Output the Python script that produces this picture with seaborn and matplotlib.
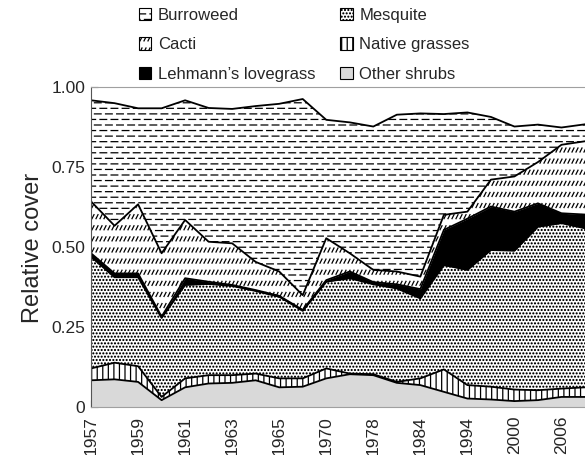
import warnings

import matplotlib
matplotlib.use("Agg")
import matplotlib.hatch as mhatch
import matplotlib.pyplot as plt
import numpy as np
import pandas as pd
import seaborn as sns
from matplotlib.patches import Patch
from matplotlib.path import Path

warnings.filterwarnings("ignore")

# relative cover per census year (stack order bottom -> top)
years = [1957, 1958, 1959, 1960, 1961, 1962, 1963, 1964, 1965, 1967, 1970,
         1975, 1978, 1981, 1984, 1989, 1994, 1997, 2000, 2003, 2006, 2009]
other_shrubs = [0.085, 0.088, 0.080, 0.023, 0.063, 0.075, 0.077, 0.085, 0.063, 0.065, 0.091,
                0.104, 0.101, 0.077, 0.070, 0.049, 0.028, 0.025, 0.020, 0.023, 0.033, 0.033]
native_grasses = [0.037, 0.052, 0.049, 0.010, 0.028, 0.026, 0.024, 0.021, 0.028, 0.026, 0.031,
                  0.002, 0.003, 0.003, 0.021, 0.070, 0.042, 0.040, 0.036, 0.031, 0.026, 0.030]
mesquite = [0.349, 0.267, 0.278, 0.247, 0.292, 0.285, 0.279, 0.258, 0.255, 0.211, 0.271,
            0.298, 0.281, 0.292, 0.250, 0.326, 0.360, 0.427, 0.434, 0.511, 0.517, 0.497]
lehmann = [0.011, 0.012, 0.012, 0.004, 0.021, 0.007, 0.003, 0.003, 0.003, 0.003, 0.005,
           0.021, 0.007, 0.013, 0.029, 0.110, 0.160, 0.136, 0.122, 0.073, 0.031, 0.043]
cacti = [0.162, 0.149, 0.216, 0.198, 0.182, 0.125, 0.130, 0.088, 0.076, 0.046, 0.131,
         0.057, 0.038, 0.040, 0.039, 0.047, 0.022, 0.084, 0.110, 0.129, 0.214, 0.229]
burroweed = [0.316, 0.383, 0.300, 0.453, 0.374, 0.418, 0.420, 0.487, 0.524, 0.613, 0.370,
             0.409, 0.448, 0.490, 0.510, 0.315, 0.310, 0.196, 0.156, 0.117, 0.054, 0.053]

species = ["Other shrubs", "Native grasses", "Mesquite",
           "Lehmann\u2019s lovegrass", "Cacti", "Burroweed"]
layers = [other_shrubs, native_grasses, mesquite, lehmann, cacti, burroweed]
fills = ["#d9d9d9", "white", "white", "black", "white", "white"]
hatches = [None, "|||", ".....", None, "~", "="]
legend_order = [5, 4, 3, 2, 1, 0]


class DashRows(mhatch.HatchPatternBase):
    """staggered rows of short horizontal dashes ('=')"""
    rows, per_row, frac = 18, 9, 0.6

    def __init__(self, hatch, density):
        self.num_vertices = self.rows * (self.per_row + 1) * 2 if "=" in hatch else 0

    def set_vertices_and_codes(self, vertices, codes):
        step = 1.0 / self.per_row
        k = 0
        for r in range(self.rows):
            y = (r + 0.5) / self.rows
            x0 = -step / 2 if r % 2 else 0.0
            for c in range(self.per_row + 1):
                x = x0 + c * step
                vertices[k] = (x, y)
                vertices[k + 1] = (x + self.frac * step, y)
                codes[k] = Path.MOVETO
                codes[k + 1] = Path.LINETO
                k += 2


class SlashRows(mhatch.HatchPatternBase):
    """rows of short slanted strokes ('~')"""
    rows, per_row, w, h = 9, 25, 0.02, 0.04

    def __init__(self, hatch, density):
        self.num_vertices = self.rows * (self.per_row + 1) * 2 if "~" in hatch else 0

    def set_vertices_and_codes(self, vertices, codes):
        step = 1.0 / self.per_row
        k = 0
        for r in range(self.rows):
            y = (r + 0.5) / self.rows
            for c in range(self.per_row + 1):
                x = c * step
                vertices[k] = (x, y - self.h / 2)
                vertices[k + 1] = (x + self.w, y + self.h / 2)
                codes[k] = Path.MOVETO
                codes[k + 1] = Path.LINETO
                k += 2


mhatch._hatch_types.extend([DashRows, SlashRows])
mhatch.SmallFilledCircles.size = 0.13

sns.set_style("ticks")
plt.rcParams["font.family"] = ["Liberation Sans", "DejaVu Sans"]
plt.rcParams["hatch.linewidth"] = 0.9
plt.rcParams["patch.force_edgecolor"] = False

pos = np.arange(len(years))
tops = np.cumsum(np.array(layers), axis=0)

fig = plt.figure(figsize=(5.85, 4.55), dpi=100)
ax = fig.add_axes([0.1556, 0.1044, 0.8444, 0.7033])

polys = ax.stackplot(pos, *layers, colors=fills, hatch=hatches,
                     edgecolor="black", linewidth=0)

long_df = pd.DataFrame({
    "pos": np.tile(pos, len(species)),
    "top": tops.ravel(),
    "layer": np.repeat(species, len(pos)),
})
sns.lineplot(data=long_df, x="pos", y="top", units="layer", estimator=None,
             color="black", linewidth=1.3, ax=ax, legend=False)

ax.set_xlim(0, 20.9)
ax.set_ylim(0, 1)
ax.set_xticks(pos)
ax.set_xticklabels([str(y) if i % 2 == 0 else "" for i, y in enumerate(years)],
                   rotation=90, fontsize=12.5)
ax.set_yticks([0, 0.25, 0.5, 0.75, 1.0])
ax.set_yticklabels(["0", "0.25", "0.50", "0.75", "1.00"], fontsize=12.5)
ax.tick_params(axis="both", direction="in", length=5, width=0.8, color="#333333", pad=4)
ax.tick_params(axis="x", pad=6)
ax.set_xlabel("")
ax.set_ylabel("Relative cover", fontsize=17)
ax.yaxis.set_label_coords(-0.095, 0.5)

ax.spines["right"].set_visible(False)
ax.spines["top"].set_color("#a0a0a0")
ax.spines["bottom"].set_color("#a0a0a0")
ax.spines["left"].set_color("#555555")
for s in ax.spines.values():
    s.set_linewidth(0.8)

handles = [Patch(facecolor=fills[i], hatch=hatches[i], edgecolor="black", linewidth=0.8)
           for i in legend_order]
fig.legend(handles, [species[i] for i in legend_order], ncol=2, loc="upper left",
           bbox_to_anchor=(0.237, 0.983), frameon=False, fontsize=12,
           handlelength=0.75, handleheight=0.75, handletextpad=0.4,
           columnspacing=1.5, labelspacing=0.88, borderpad=0, borderaxespad=0)

fig.savefig("out.png", dpi=100)
